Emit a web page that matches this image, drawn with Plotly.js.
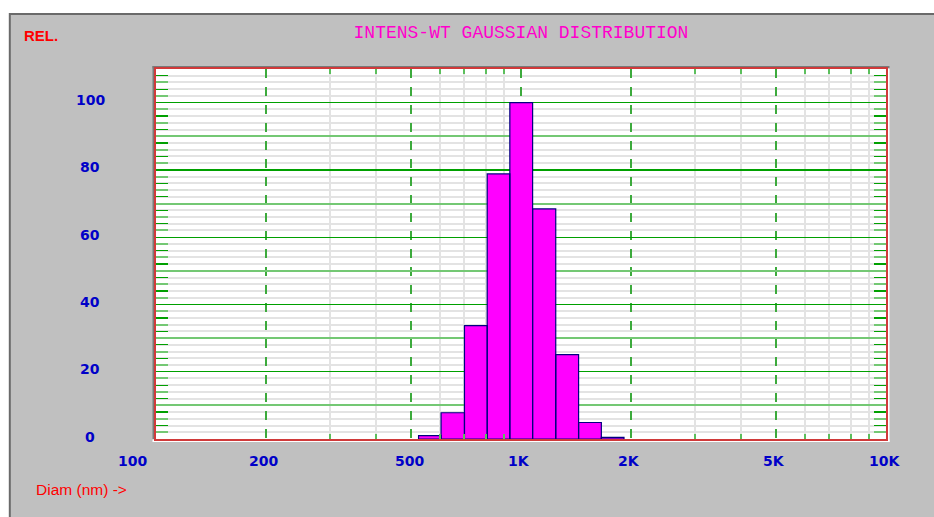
<!DOCTYPE html>
<html>
<head>
<meta charset="utf-8">
<script src="https://cdn.plot.ly/plotly-3.0.1.min.js"></script>
<style>html,body{margin:0;padding:0;background:#fff;}#chart{width:934px;height:517px;}</style>
</head>
<body>
<div id="chart"></div>
<script>
// ---- data ----
const binEdges = [524, 604, 700, 808, 932, 1076, 1245, 1438, 1660, 1915];
const intensity = [1.0, 7.8, 33.7, 78.8, 100, 68.4, 25.1, 4.9, 0.5];
const xTickValues = [100, 200, 500, 1000, 2000, 5000, 10000];
const xTickLabels = ['100', '200', '500', '1K', '2K', '5K', '10K'];
const yTickValues = [0, 20, 40, 60, 80, 100];
const yTickLabels = ['0', '20', '40', '60', '80', '100'];
const titleText = 'INTENS-WT GAUSSIAN DISTRIBUTION';
const yUnitText = 'REL.';
const xUnitText = 'Diam (nm) ->';

// ---- geometry helpers (pixel -> paper) ----
const W = 934, H = 517, ML = 156, MR = 48, MT = 69, MB = 78;
const PW = W - ML - MR, PH = H - MT - MB;
const px = x => (x - ML) / PW;
const py = y => (H - MB - y) / PH;

// bars as closed polygons
const bx = [], by = [];
for (let i = 0; i < intensity.length; i++) {
  const l = binEdges[i], r = binEdges[i + 1], h = intensity[i];
  bx.push(l, l, r, r, l, null);
  by.push(0, h, h, 0, 0, null);
}

const yMinorA = [], yMinorB = [];
for (let v = 2; v < 110; v += 2) {
  if (v % 10 === 0) continue;
  if (v % 4 === 0) yMinorA.push(v); else yMinorB.push(v);
}
const yMajorB = [10, 30, 50, 70, 90];
const xMinor = [300, 400, 600, 700, 800, 900, 3000, 4000, 6000, 7000, 8000, 9000];

const traces = [
  {
    type: 'scatter', mode: 'lines', x: bx, y: by, fill: 'toself',
    fillcolor: '#ff00ff', line: {color: '#000080', width: 1.2},
    hoverinfo: 'skip', showlegend: false, xaxis: 'x', yaxis: 'y'
  },
  {type: 'scatter', mode: 'lines', x: [], y: [], xaxis: 'x', yaxis: 'y2', showlegend: false}
];

const blue = '#0000c8';
const tickFont = {family: 'DejaVu Sans', size: 14, color: blue, weight: 'bold'};
const annotations = [];
xTickValues.forEach((v, i) => {
  annotations.push({
    xref: 'x', yref: 'paper', x: Math.log10(v), y: py(461),
    xanchor: 'center', yanchor: 'middle', showarrow: false,
    xshift: i === 0 ? -24 : -2,
    text: xTickLabels[i], font: tickFont
  });
});
yTickValues.forEach((v, i) => {
  annotations.push({
    xref: 'paper', yref: 'y', x: px(90), y: v,
    xanchor: 'center', yanchor: 'middle', showarrow: false, yshift: 2.5,
    text: yTickLabels[i], font: tickFont
  });
});
annotations.push({
  xref: 'paper', yref: 'paper', x: px(22), y: py(35), xanchor: 'left', yanchor: 'middle',
  showarrow: false, text: yUnitText,
  font: {family: 'Liberation Sans', size: 15, color: '#ff0000', weight: 'bold'}
});
annotations.push({
  xref: 'paper', yref: 'paper', x: px(34), y: py(489), xanchor: 'left', yanchor: 'middle',
  showarrow: false, text: xUnitText,
  font: {family: 'Liberation Sans', size: 15.5, color: '#ff0000'}
});

const P = (x, y) => px(x).toFixed(5) + ',' + py(y).toFixed(5);
const shapes = [
  // white margins outside the grey panel
  {type: 'rect', xref: 'paper', yref: 'paper', x0: px(0), x1: px(W), y0: py(0), y1: py(13), fillcolor: '#ffffff', line: {width: 0}, layer: 'below'},
  {type: 'rect', xref: 'paper', yref: 'paper', x0: px(0), x1: px(9), y0: py(0), y1: py(H), fillcolor: '#ffffff', line: {width: 0}, layer: 'below'},
  // panel dark border
  {type: 'path', xref: 'paper', yref: 'paper', path: 'M' + P(9.8, H) + ' L' + P(9.8, 14) + ' L' + P(W, 14), line: {color: '#6a6a6a', width: 2}, layer: 'below'},
  // plot frame shadow / highlight
  {type: 'rect', xref: 'paper', yref: 'paper', x0: px(152.5), x1: px(155), y0: py(439), y1: py(66), fillcolor: '#7a7a7a', line: {width: 0}, layer: 'below'},
  {type: 'rect', xref: 'paper', yref: 'paper', x0: px(152.5), x1: px(889.5), y0: py(68.5), y1: py(66), fillcolor: '#7a7a7a', line: {width: 0}, layer: 'below'},
  {type: 'rect', xref: 'paper', yref: 'paper', x0: px(887), x1: px(889.5), y0: py(442), y1: py(68.5), fillcolor: '#ffffff', line: {width: 0}, layer: 'below'},
  {type: 'rect', xref: 'paper', yref: 'paper', x0: px(152.5), x1: px(889.5), y0: py(442), y1: py(439.5), fillcolor: '#ffffff', line: {width: 0}, layer: 'below'}
];

const frameRed = '#d03a3a';
const layout = {
  width: W, height: H,
  margin: {l: ML, r: MR, t: MT, b: MB, pad: 0},
  paper_bgcolor: '#c0c0c0', plot_bgcolor: '#ffffff',
  showlegend: false,
  title: {
    text: titleText, x: 521 / W, xanchor: 'center', y: 1 - 32 / H, yanchor: 'middle',
    font: {family: 'Liberation Mono', size: 18, color: '#ff00cc'}
  },
  xaxis: {
    type: 'log', range: [2, 4], tickmode: 'array', tickvals: xTickValues.slice(1, -1),
    showticklabels: false, ticks: '', showgrid: true, gridcolor: '#3caa3c', gridwidth: 2, griddash: 'dash',
    zeroline: false, showline: true, linecolor: frameRed, linewidth: 2, mirror: 'ticks',
    minor: {tickmode: 'array', tickvals: xMinor, ticks: 'inside', ticklen: 5, tickwidth: 2, tickcolor: '#5cbf5c',
            showgrid: true, gridcolor: '#e3e3e3', gridwidth: 2, griddash: 'solid'},
    fixedrange: true
  },
  yaxis: {
    range: [0, 110], tickmode: 'array', tickvals: yTickValues, showticklabels: false, ticks: '',
    showgrid: true, gridcolor: '#00a000', gridwidth: 1.3, zeroline: false,
    showline: true, linecolor: frameRed, linewidth: 2, mirror: 'ticks',
    minor: {tickmode: 'array', tickvals: yMinorA, ticks: 'inside', ticklen: 12, tickwidth: 1.3, tickcolor: '#00a000',
            showgrid: true, gridcolor: '#e3e3e3', gridwidth: 2, griddash: 'solid'},
    fixedrange: true
  },
  yaxis2: {
    overlaying: 'y', side: 'left', range: [0, 110], tickmode: 'array', tickvals: yMajorB, showticklabels: false, ticks: '',
    showgrid: true, gridcolor: '#74c874', gridwidth: 2, zeroline: false,
    showline: true, linecolor: frameRed, linewidth: 2, mirror: 'ticks',
    minor: {tickmode: 'array', tickvals: yMinorB, ticks: 'inside', ticklen: 12, tickwidth: 2, tickcolor: '#74c874',
            showgrid: true, gridcolor: '#e3e3e3', gridwidth: 2, griddash: 'solid'},
    fixedrange: true
  },
  annotations: annotations,
  shapes: shapes
};

Plotly.newPlot('chart', traces, layout, {displayModeBar: false, staticPlot: true});
</script>
</body>
</html>
